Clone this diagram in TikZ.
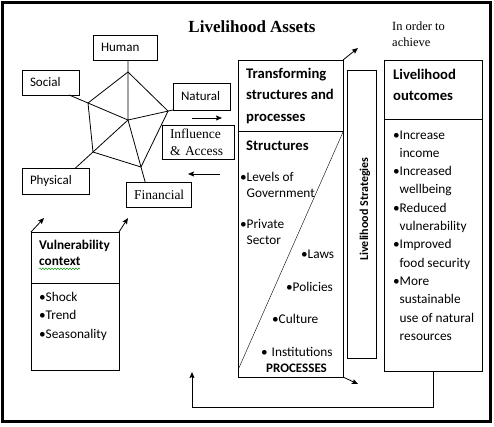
\documentclass[tikz,border=0pt]{standalone}
\usepackage{fontspec}
\setmainfont{Liberation Serif}
\setsansfont{Carlito}
\usetikzlibrary{arrows.meta,positioning,calc,decorations.pathmorphing}
\tikzset{
  assetbox/.style={draw=black,line width=0.9pt,inner xsep=8pt,inner ysep=0pt,
                   outer sep=0pt,align=left,font=\sffamily\fontsize{13}{15}\selectfont},
  serifbox/.style={assetbox,font=\fontsize{13.5}{17}\selectfont},
  panel/.style={draw=black,line width=0.9pt,inner sep=0pt,outer sep=0pt},
  head/.style={inner sep=0pt,anchor=base west,align=left,
               font=\sffamily\bfseries\fontsize{14.67}{21.5}\selectfont},
  item/.style={inner sep=0pt,anchor=base west,align=left,
               font=\sffamily\fontsize{13.3}{16.5}\selectfont},
  spoke/.style={line width=0.8pt},
  arr/.style={-{Stealth[length=6pt,width=5pt,inset=1pt]},line width=0.8pt}
}
\newcommand{\bul}{\makebox[6.5pt][l]{\textbullet}}
\newcommand{\ind}{\hspace*{6.5pt}}

\begin{document}
\begin{tikzpicture}[x=1pt,y=-1pt]
  \path[use as bounding box] (0,0) rectangle (494,426);
  \draw[line width=3pt] (2.5,2) rectangle (490.5,421.5);
  \node[inner sep=0pt,anchor=base,font=\bfseries\fontsize{17}{20}\selectfont]
    (title) at (252,32) {Livelihood Assets};

  % assets (multi-line nodes sit on their last baseline)
  \node[assetbox,text width=48pt,minimum height=25pt] (human) at (125,47.5) {Human};
  \node[assetbox,text width=41pt,minimum height=25pt] (social) at (50.5,82.5) {Social};
  \node[assetbox,text width=41pt,minimum height=27pt] (natural) at (201.5,96.5) {Natural};
  \node[assetbox,text width=51pt,minimum height=26pt] (physical) at (55.5,181) {Physical};
  \node[serifbox,text width=49pt,minimum height=25pt] (financial) at (158.5,194.5) {Financial};
  \node[serifbox,text width=56pt,minimum height=34pt] (influence) at (198,142)
    {Influence\\\& Access};

  \coordinate (ctr) at (128,120);
  \coordinate (v1) at (128,72);
  \coordinate (v2) at ($(ctr)!0.89!(natural.south west)$);
  \coordinate (v3) at (141,167);
  \coordinate (v4) at (93,152);
  \coordinate (v5) at (88,103);
  \draw[spoke] (v1) -- (v2) -- (v3) -- (v4) -- (v5) -- cycle;
  \draw[spoke] (human.south -| ctr) -- (ctr) -- (natural.south west);
  \draw[spoke] (ctr) -- ($(ctr)!1.32!(v3)$);
  \draw[spoke] (ctr) -- ($(ctr)!1.5!(v4)$);
  \draw[spoke] (ctr) -- ($(ctr)!1.475!(v5)$);

  \draw[arr] ([shift={(-6,-7)}]influence.north) -- ++(30,0);
  \draw[arr] ([shift={(22,15)}]influence.south) -- ++(-32,0);

  % transforming structures
  \node[panel,minimum width=105pt,minimum height=317pt] (trans) at (290.5,218.5) {};
  \draw ([yshift=-71pt]trans.north west) -- ([yshift=-71pt]trans.north east);
  \draw ([yshift=-72pt]trans.north east) -- ([yshift=7pt]trans.south west);
  \node[head] (transhead) at (246,121) {Transforming\\structures and\\processes};
  \node[head] (struct) at (246,150) {Structures};
  \node[item] (levels) at (240,197.5) {\bul Levels of\\\ind Government};
  \node[item] (private) at (240,244.5) {\bul Private\\\ind Sector};
  \node[item] (laws) at (301,258) {\bul Laws};
  \node[item] (policies) at (286,291) {\bul Policies};
  \node[item] (culture) at (272,323) {\bul Culture};
  \node[item] (inst) at (261,356) {\bul\hspace{4pt}Institutions};
  \node[head,font=\sffamily\bfseries\fontsize{13}{16}\selectfont] (proc) at (266,372) {PROCESSES};

  \draw[arr] (trans.north east) -- ++(15,-12);
  \draw[arr] (trans.south east) -- ++(15,7);

  % strategies
  \node[panel,minimum width=29pt,minimum height=288pt] (strat) at (361.5,214) {};
  \node[rotate=90,inner sep=0pt,font=\sffamily\bfseries\fontsize{12}{14}\selectfont]
    (stratlbl) at (365,209) {Livelihood Strategies};

  % outcomes
  \node[inner sep=0pt,anchor=base west,align=left,font=\fontsize{12.5}{16}\selectfont]
    (achieve) at (392,46) {In order to\\achieve};
  \node[panel,minimum width=98pt,minimum height=311pt] (outc) at (433,215.5) {};
  \draw ([yshift=-59pt]outc.north west) -- ([yshift=-59pt]outc.north east);
  \node[head] (outchead) at (393,100.5) {Livelihood\\outcomes};
  \node[item,font=\sffamily\fontsize{13.3}{18.3}\selectfont] (outitems) at (393,340.3)
    {\bul Increase\\\ind income\\\bul Increased\\\ind wellbeing\\\bul Reduced\\\ind vulnerability\\
     \bul Improved\\\ind food security\\\bul More\\\ind sustainable\\\ind use of natural\\\ind resources};

  % vulnerability
  \node[panel,minimum width=88pt,minimum height=138pt] (vuln) at (75,301) {};
  \draw ([yshift=-51pt]vuln.north west) -- ([yshift=-51pt]vuln.north east);
  \node[head,font=\sffamily\bfseries\fontsize{13.3}{16.5}\selectfont] (vulnhead) at (39,265.5)
    {Vulnerability\\context};
  \draw[green!60!black,line width=0.5pt,decorate,
        decoration={snake,amplitude=0.8pt,segment length=3pt}]
    ([yshift=-3pt]vulnhead.south west) -- ++(41,0);
  \node[item,font=\sffamily\fontsize{13.3}{18.5}\selectfont] (vulnitems) at (39,338)
    {\bul Shock\\\bul Trend\\\bul Seasonality};

  \draw[arr] (vuln.north west) -- ++(13,-14);
  \draw[arr] (vuln.north east) -- ++(9,-14);

  % feedback
  \coordinate (fb) at (192,407);
  \draw[arr] (outc.south) |- (fb) -- ++(0,-35);
\end{tikzpicture}
\end{document}
